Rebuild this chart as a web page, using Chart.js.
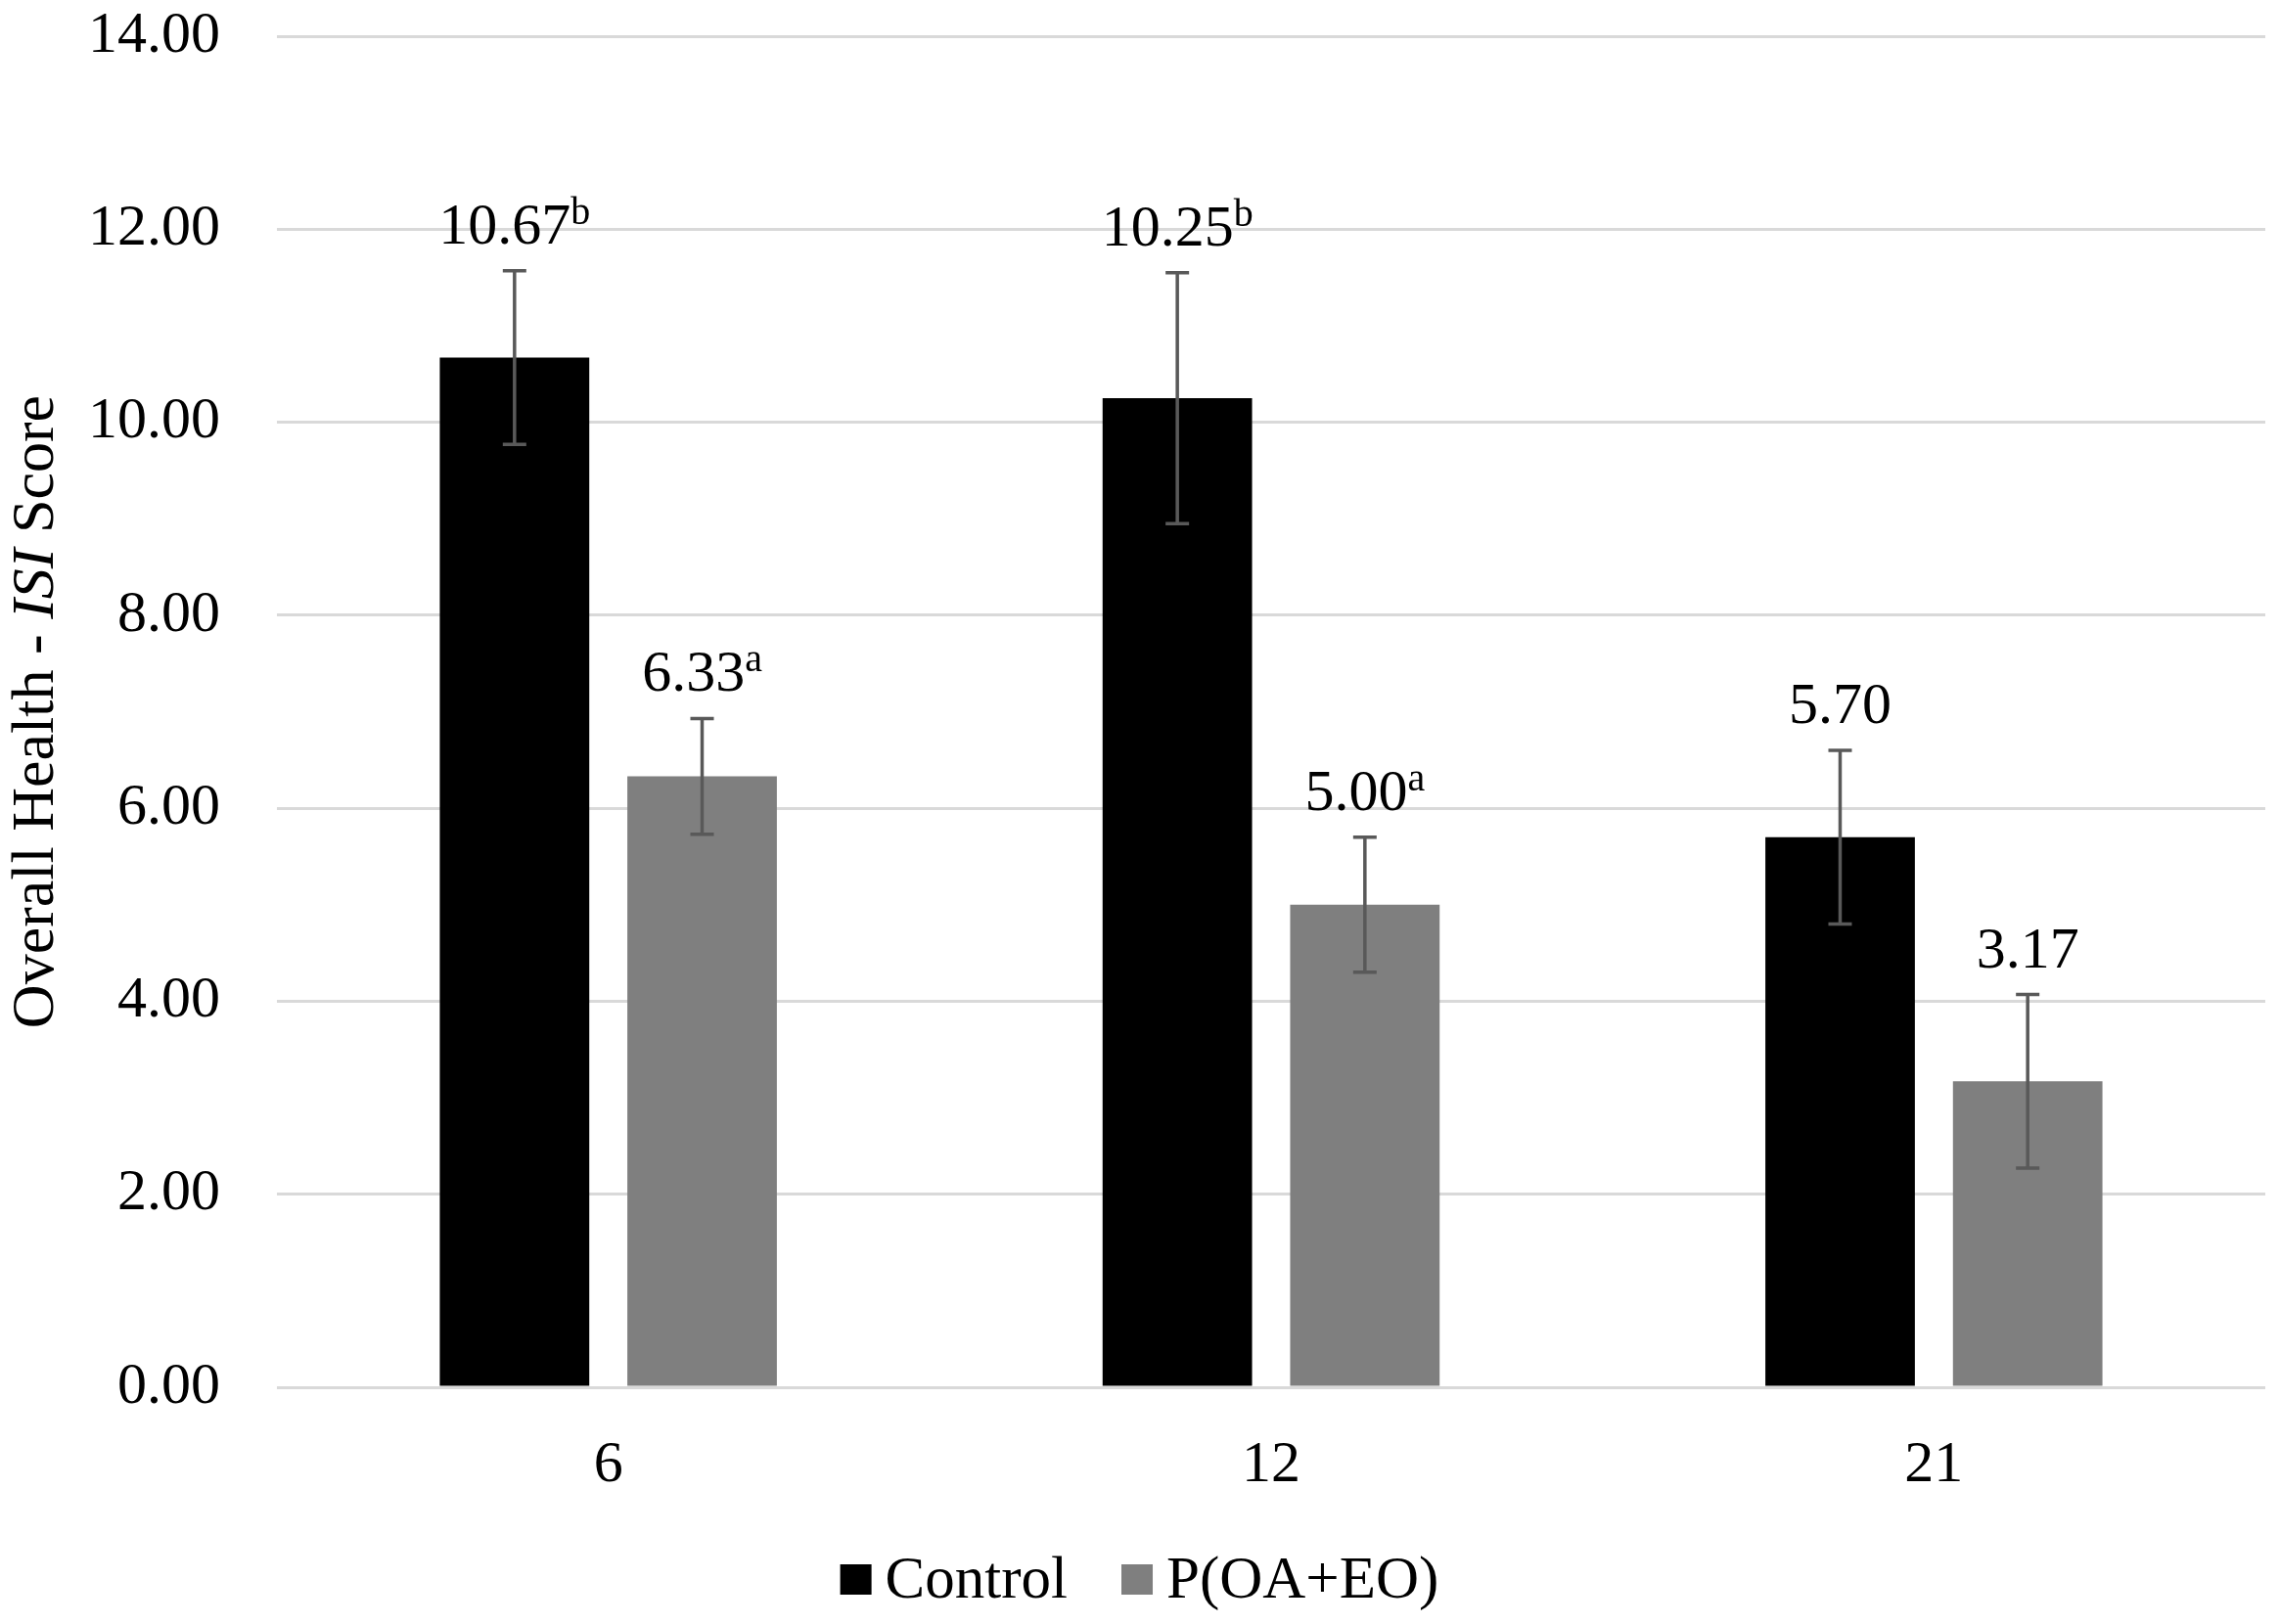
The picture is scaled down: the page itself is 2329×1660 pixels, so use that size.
<!DOCTYPE html>
<html>
<head>
<meta charset="utf-8">
<script src="https://cdn.jsdelivr.net/npm/chart.js@4.4.1/dist/chart.umd.min.js"></script>
<style>
  html, body { margin: 0; padding: 0; background: #ffffff; }
  canvas { display: block; }
</style>
</head>
<body>
<canvas id="isiChart" width="2329" height="1660"></canvas>
<script>
// days
const categories = ['6', '12', '21'];
const seriesNames = ['Control', 'P(OA+EO)'];
const controlValues = [10.67, 10.25, 5.70];
const treatedValues = [6.33, 5.00, 3.17];
const controlErrors = [0.9, 1.3, 0.9];
const treatedErrors = [0.6, 0.7, 0.9];
const controlLetters = ['b', 'b', ''];
const treatedLetters = ['a', 'a', ''];
const yMin = 0;
const yMax = 14;
const yStep = 2;

const FONT = "'Liberation Serif', 'Times New Roman', serif";
const errors = [controlErrors, treatedErrors];
const letters = [controlLetters, treatedLetters];

// error bars with caps
const errorBars = {
  id: 'errorBars',
  afterDatasetsDraw(chart) {
    const ctx = chart.ctx;
    const y = chart.scales.y;
    ctx.save();
    ctx.strokeStyle = '#595959';
    ctx.lineWidth = 3.5;
    chart.data.datasets.forEach((ds, i) => {
      chart.getDatasetMeta(i).data.forEach((bar, j) => {
        const v = ds.data[j], e = errors[i][j];
        const top = y.getPixelForValue(v + e);
        const bot = y.getPixelForValue(v - e);
        ctx.beginPath();
        ctx.moveTo(bar.x, top); ctx.lineTo(bar.x, bot);
        ctx.moveTo(bar.x - 12, top); ctx.lineTo(bar.x + 12, top);
        ctx.moveTo(bar.x - 12, bot); ctx.lineTo(bar.x + 12, bot);
        ctx.stroke();
      });
    });
    ctx.restore();
  }
};

// value labels with superscript letters
const valueLabels = {
  id: 'valueLabels',
  afterDatasetsDraw(chart) {
    const ctx = chart.ctx;
    const y = chart.scales.y;
    ctx.save();
    ctx.fillStyle = '#000000';
    ctx.textBaseline = 'alphabetic';
    ctx.textAlign = 'left';
    chart.data.datasets.forEach((ds, i) => {
      chart.getDatasetMeta(i).data.forEach((bar, j) => {
        const v = ds.data[j];
        const txt = v.toFixed(2);
        const sup = letters[i][j];
        const base = y.getPixelForValue(v + errors[i][j]) - 28;
        ctx.font = '60px ' + FONT;
        const w1 = ctx.measureText(txt).width;
        ctx.font = '40px ' + FONT;
        const w2 = sup ? ctx.measureText(sup).width : 0;
        const x0 = bar.x - (w1 + w2) / 2;
        ctx.font = '60px ' + FONT;
        ctx.fillText(txt, x0, base);
        if (sup) {
          ctx.font = '40px ' + FONT;
          ctx.fillText(sup, x0 + w1, base - 20);
        }
      });
    });
    ctx.restore();
  }
};

// rotated y title with italic ISI
const yTitle = {
  id: 'yTitle',
  afterDraw(chart) {
    const ctx = chart.ctx;
    const area = chart.chartArea;
    const parts = [
      ['Overall Health - ', ''],
      ['ISI', 'italic '],
      [' Score', '']
    ];
    ctx.save();
    ctx.fillStyle = '#000000';
    ctx.textBaseline = 'middle';
    ctx.textAlign = 'left';
    let total = 0;
    parts.forEach(p => { ctx.font = p[1] + '62px ' + FONT; total += ctx.measureText(p[0]).width; });
    ctx.translate(38, (area.top + area.bottom) / 2);
    ctx.rotate(-Math.PI / 2);
    let x = -total / 2;
    parts.forEach(p => {
      ctx.font = p[1] + '62px ' + FONT;
      ctx.fillText(p[0], x, 0);
      x += ctx.measureText(p[0]).width;
    });
    ctx.restore();
  }
};

// legend centred at the bottom
const bottomLegend = {
  id: 'bottomLegend',
  afterDraw(chart) {
    const ctx = chart.ctx;
    const colors = chart.data.datasets.map(d => d.backgroundColor);
    ctx.save();
    ctx.font = '61px ' + FONT;
    ctx.textBaseline = 'alphabetic';
    ctx.textAlign = 'left';
    const box = 32, gap = 14, between = 55;
    const widths = seriesNames.map(n => ctx.measureText(n).width);
    const total = widths.reduce((a, w) => a + box + gap + w, 0) + between * (seriesNames.length - 1);
    let x = chart.width / 2 - total / 2;
    const baseline = 1633;
    seriesNames.forEach((n, i) => {
      ctx.fillStyle = colors[i];
      ctx.fillRect(x, 1599, box, 31);
      ctx.fillStyle = '#000000';
      ctx.fillText(n, x + box + gap, baseline);
      x += box + gap + widths[i] + between;
    });
    ctx.restore();
  }
};

Chart.defaults.font.family = FONT;
Chart.defaults.color = '#000000';

new Chart(document.getElementById('isiChart'), {
  type: 'bar',
  data: {
    labels: categories,
    datasets: [
      { label: seriesNames[0], data: controlValues, backgroundColor: '#000000' },
      { label: seriesNames[1], data: treatedValues, backgroundColor: '#7f7f7f' }
    ]
  },
  options: {
    responsive: false,
    devicePixelRatio: 1,
    animation: false,
    categoryPercentage: 0.566,
    barPercentage: 0.797,
    layout: { padding: { top: 37, right: 14, left: 0, bottom: 0 } },
    plugins: {
      legend: { display: false },
      tooltip: { enabled: false }
    },
    scales: {
      x: {
        grid: { display: false },
        border: { display: false },
        ticks: { font: { size: 60 }, padding: 36 },
        afterFit(scale) { scale.height = 1660 - 1418; }
      },
      y: {
        min: yMin,
        max: yMax,
        grid: { color: '#d9d9d9', lineWidth: 3, drawTicks: false },
        border: { display: false },
        ticks: {
          stepSize: yStep,
          font: { size: 60 },
          padding: 58,
          callback: v => v.toFixed(2)
        },
        afterFit(scale) {
          scale.width = 283;
          scale.paddingTop = 0;
          scale.paddingBottom = 0;
        }
      }
    }
  },
  plugins: [errorBars, valueLabels, yTitle, bottomLegend]
});
</script>
</body>
</html>
